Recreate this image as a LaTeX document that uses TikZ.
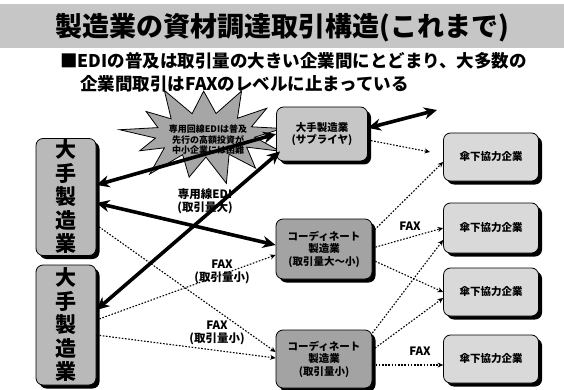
\documentclass[tikz,border=0pt]{standalone}
\usepackage{fontspec}
\setmainfont{Noto Sans CJK JP}
\usetikzlibrary{shadows,arrows.meta,calc}
\begin{document}
\begin{tikzpicture}[x=1pt,y=-1pt,
  box/.style={draw=black,line width=0.8pt,rounded corners=7pt,align=center,
    font=\bfseries\fontsize{10.5}{12.5}\selectfont,inner sep=1pt,
    drop shadow={shadow xshift=3.5pt,shadow yshift=-3.5pt,fill=black,opacity=1}},
  bigbox/.style={box,fill=gray!55,minimum width=60pt,font=\bfseries\fontsize{21}{23.5}\selectfont},
  supbox/.style={box,fill=gray!45,minimum width=91pt,minimum height=54pt},
  coordbox/.style={box,fill=gray!72,minimum width=96pt,minimum height=60pt},
  subbox/.style={box,fill=gray!30,minimum width=95pt,minimum height=48pt},
  bigarrow/.style={line width=3.6pt,{Stealth[length=13pt,width=12pt]}-{Stealth[length=13pt,width=12pt]}},
  dotline/.style={dash pattern=on 1.6pt off 1.6pt,line width=1.1pt,-{Stealth[length=5.5pt,width=5pt]}},
  lbl/.style={font=\bfseries\fontsize{11.5}{13}\selectfont,align=center,inner sep=1pt}
]
\useasboundingbox (0,0) rectangle (564,390);
\fill[white] (0,0) rectangle (564,390);
% title band
\fill[gray!45] (0,4) rectangle (564,48);
\node[font=\bfseries\fontsize{27}{30}\selectfont] (title) at (282,28) {製造業の資材調達取引構造(これまで)};
\node[anchor=west,font=\bfseries\fontsize{17.5}{22}\selectfont,inner sep=0pt] (sub1) at (60,61) {■EDIの普及は取引量の大きい企業間にとどまり、大多数の};
\node[anchor=west,font=\bfseries\fontsize{17.5}{22}\selectfont,inner sep=0pt] (sub2) at (80,84) {企業間取引はFAXのレベルに止まっている};

% starburst
\draw[draw=black,line width=0.8pt,fill=gray!70]
  plot[samples at={0,...,25}]
  ({205+ifthenelse(mod(\x,2)==0,78*(1+0.1*sin(\x*97)),50)*cos(\x*180/13+8)},
   {135-ifthenelse(mod(\x,2)==0,47*(1+0.1*sin(\x*97)),22)*sin(\x*180/13+8)}) -- cycle;
\node[align=center,inner sep=0pt,font=\bfseries\fontsize{9}{10.5}\selectfont] (burst) at (208,140)
  {専用回線EDIは普及\\先行の高額投資が\\中小企業には困難};

% boxes
\node[bigbox,minimum height=117pt] (L1) at (66,197) {大\\手\\製\\造\\業};
\node[bigbox,minimum height=120pt] (L2) at (66,325) {大\\手\\製\\造\\業};
\node[supbox] (S) at (322,134) {大手製造業\\(サプライヤ)};
\node[coordbox] (C1) at (324,249) {コーディネート\\製造業\\(取引量大～小)};
\node[coordbox,minimum height=58pt] (C2) at (324,359) {コーディネート\\製造業\\(取引量小)};
\node[subbox] (R1) at (491,157) {傘下協力企業};
\node[subbox,minimum height=50pt] (R2) at (491,228) {傘下協力企業};
\node[subbox] (R3) at (491,292) {傘下協力企業};
\node[subbox] (R4) at (491,359) {傘下協力企業};

\coordinate (E) at (437,110);
\coordinate (F) at (430,152);

% thick EDI arrows
\draw[bigarrow] ([yshift=12pt]L1.east) -- (S.west);
\draw[bigarrow] ([yshift=-6pt]L1.east) -- ([yshift=4pt]C1.west);
\draw[bigarrow] ([yshift=15pt]L2.east) -- ([xshift=4pt,yshift=10pt]S.south west);
\draw[bigarrow] ([yshift=6pt]S.east) -- (E);

% dotted FAX arrows
\draw[dotline] ([yshift=-28pt]L1.east) -- ([yshift=7pt]C2.west);
\draw[dotline] ([yshift=5pt]L2.east) -- ([yshift=-6pt]C1.west);
\draw[dotline] ([yshift=-10pt]L2.east) -- ([yshift=1pt]C2.west);
\draw[dotline] ([yshift=-6pt]S.east) -- (F);
\draw[dotline] ([yshift=17pt]C1.east) -- ([yshift=-5pt]R1.west);
\draw[dotline] ([yshift=1pt]C1.east) -- (R2.west);
\draw[dotline] ([yshift=-11pt]C1.east) -- (R3.west);
\draw[dotline] ([yshift=26pt]C2.east) -- ([yshift=-12pt]R2.west);
\draw[dotline] ([yshift=9pt]C2.east) -- ([yshift=-6pt]R3.west);
\draw[dotline] ([yshift=-6pt]C2.east) -- ([yshift=-6pt]R4.west);

% labels
\node[lbl] (edi) at (205,201) {専用線EDI\\(取引量大)};
\node[lbl] (fax1) at (222,272) {FAX\\(取引量小)};
\node[lbl] (fax2) at (217,333) {FAX\\(取引量小)};
\node[lbl] (fax3) at (410,226) {FAX};
\node[lbl] (fax4) at (420,351) {FAX};
\end{tikzpicture}
\end{document}
